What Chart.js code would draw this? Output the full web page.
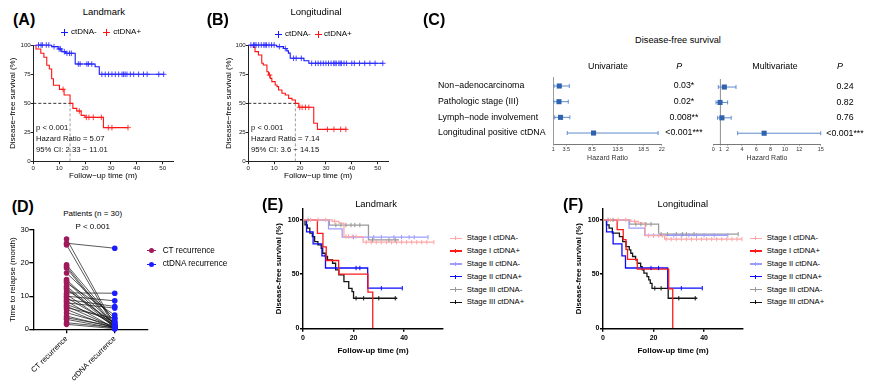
<!DOCTYPE html>
<html><head><meta charset="utf-8">
<script src="https://cdn.jsdelivr.net/npm/chart.js@4.4.1/dist/chart.umd.min.js"></script>
<style>
html,body{margin:0;padding:0;background:#fff;}
body{width:874px;height:390px;position:relative;overflow:hidden;font-family:"Liberation Sans",Arial,sans-serif;color:#000;}
canvas{position:absolute;}
.t{position:absolute;white-space:nowrap;line-height:1;}
.b{position:absolute;}
</style></head><body>
<script>
// ================= DATA =================
// (A) Landmark Kaplan-Meier (time in months, survival in %)
const aNegTime = [0, 7.1, 9.6, 11.0, 12.5, 16.2, 23.9, 25.5, 50.4];
const aNegSurv = [100, 98.6, 96.6, 94.3, 92.9, 83.7, 81.4, 74.9, 74.9];
const aNegCensor = [2, 3, 3.5, 5, 6, 8, 10, 10.5, 12, 13, 14, 14.7, 17.4, 18.1, 20.7, 21.3, 22.6, 26.5, 27.8, 29.1, 30.4, 31.7, 33, 34.3, 34.9, 35.5, 36.2, 37.5, 38.8, 40.7, 42.6, 44, 48.5, 50.4];
const aPosTime = [0, 1.05, 2.9, 4.1, 5.2, 6.2, 7.1, 7.8, 10.1, 11.9, 14.2, 15.3, 16.8, 18.5, 20.0, 27.1, 36.6];
const aPosSurv = [100, 96.6, 92.9, 89.5, 82.6, 79.4, 71.1, 65.5, 62.0, 57.2, 50.0, 45.7, 43.4, 39.7, 38.0, 29.2, 29.2];
const aPosCensor = [11.5, 17.8, 20.5, 21.5, 23.2, 26.3, 29.0, 30.4, 36.6];
const aMedian = 14.2;
const aStats = ["p < 0.001", "Hazard Ratio = 5.07", "95% CI: 2.33 \u2212 11.01"];

// (B) Longitudinal Kaplan-Meier
const bNegTime = [0, 11.0, 13.6, 14.9, 15.5, 16.2, 21.5, 23.4, 52.0];
const bNegSurv = [100, 98.6, 97.0, 95.0, 93.0, 88.6, 86.5, 84.3, 84.3];
const bNegCensor = [1, 2, 2.5, 3, 4, 5, 6, 6.5, 7, 8, 9, 10, 12, 14.3, 17.5, 18.5, 20.5, 24.5, 26, 27, 28, 29, 30, 31, 32, 33, 33.5, 34, 35, 35.5, 36, 37, 38, 40, 41, 43, 45, 47, 49, 52];
const bPosTime = [0, 1.9, 2.6, 3.9, 5.2, 5.8, 7.2, 7.8, 8.5, 9.1, 10.4, 11.1, 11.7, 13.0, 14.3, 15.6, 16.9, 18.2, 19.5, 25.3, 26.7, 38.1];
const bPosSurv = [100, 98.0, 94.3, 91.4, 84.3, 82.9, 77.1, 74.3, 71.4, 68.6, 65.7, 64.3, 61.4, 58.6, 57.2, 54.3, 52.9, 50.0, 46.6, 32.9, 27.7, 27.7];
const bPosCensor = [8.2, 19.9, 20.8, 22.1, 23.4, 30.6, 33.1, 35.7, 37.7];
const bMedian = 18.2;
const bStats = ["p < 0.001", "Hazard Ratio = 7.14", "95% CI: 3.6 \u2212 14.15"];

// (C) Forest plot
const rowLabels = ["Non\u2212adenocarcinoma", "Pathologic stage (III)", "Lymph\u2212node involvement", "Longitudinal positive ctDNA"];
const rowIdx = [0, 1, 2, 3];
const uniHR = [2.16, 2.1, 2.4, 8.8];
const uniLow = [1.13, 1.1, 1.27, 3.7];
const uniHigh = [4.1, 3.9, 4.2, 21.3];
const uniP = ["0.03*", "0.02*", "0.008**", "<0.001***"];
const uniTicks = [1, 3.5, 8.5, 13.5, 18.5, 22];
const multiHR = [1.54, 0.94, 1.2, 7.1];
const multiLow = [0.7, 0.38, 0.6, 3.4];
const multiHigh = [3.17, 2.0, 2.5, 15];
const multiP = ["0.24", "0.82", "0.76", "<0.001***"];
const multiTicks = [0, 1, 2, 4, 6, 8, 10, 12, 15];

// (D) Paired time to relapse (months)
const dCategories = ["CT recurrence", "ctDNA recurrence"];
const ctTime = [27.3, 26.0, 25.5, 19.5, 19.0, 18.5, 17.0, 15.0, 14.5, 14.0, 13.0, 12.5, 12.0, 11.0, 10.5, 10.0, 9.5, 9.0, 8.5, 8.0, 7.5, 7.0, 6.5, 6.0, 5.0, 4.0, 3.5, 3.0, 2.0, 1.5];
const ctdnaTime = [1.0, 24.5, 0.5, 2.3, 1.0, 0.5, 3.3, 1.5, 0.5, 4.3, 1.0, 0.5, 1.8, 10.9, 0.8, 8.6, 1.3, 6.9, 0.3, 6.4, 2.3, 0.5, 3.3, 0.2, 1.0, 0.5, 0.8, 0.3, 0.5, 0.2];

// (E) Landmark by stage
const efLabels = ["Stage I ctDNA-", "Stage I ctDNA+", "Stage II ctDNA-", "Stage II ctDNA+", "Stage III ctDNA-", "Stage III ctDNA+"];
const e1nT = [0, 11.5, 14.2, 16.2, 23.8, 51.8];
const e1nS = [100, 98.5, 97.0, 84.6, 79.4, 79.4];
const e1nC = [3, 6, 9, 12.5, 17, 18, 19.5, 21, 25, 27, 29, 31, 33, 35, 37, 39, 41, 43, 45, 47, 49, 51.8];
const e1pT = [0, 5.7, 7.9, 9.2, 14.1, 25.7, 27.6];
const e1pS = [100, 87.5, 75.0, 62.5, 50.0, 33.3, 0];
const e1pC = [];
const e2nT = [0, 10.1, 15.5, 49.5];
const e2nS = [100, 91.7, 84.0, 84.0];
const e2nC = [20, 28, 31, 36, 39, 42, 44, 49.5];
const e2pT = [0, 1.4, 4.0, 7.5, 8.9, 25.6, 39.3];
const e2pS = [100, 88.9, 77.8, 66.7, 55.6, 37.0, 37.0];
const e2pC = [21, 22.5, 31, 39.3];
const e3nT = [0, 10.4, 25.9, 38.0];
const e3nS = [100, 95.2, 81.5, 81.5];
const e3nC = [2, 13, 15, 17, 19, 20.5, 22.5, 27.5, 34, 36.5];
const e3pT = [0, 0.8, 1.7, 2.7, 3.7, 4.6, 5.9, 7.2, 7.8, 8.8, 9.7, 11.7, 12.9, 14.2, 16.2, 18.1, 19.4, 20.0, 37.3];
const e3pS = [100, 95.4, 92.3, 87.7, 84.6, 80.0, 76.9, 73.8, 69.2, 66.2, 63.1, 60.0, 53.8, 49.2, 43.1, 36.9, 33.8, 27.7, 27.7];
const e3pC = [21, 24, 30, 36.5];

// (F) Longitudinal by stage
const f1nT = [0, 11, 14, 16.7, 24.4, 55];
const f1nS = [100, 98.5, 97, 85.5, 82.2, 82.2];
const f1nC = [3, 6, 9, 12.5, 18, 20, 22, 23.5, 25, 27, 29, 31, 33, 35, 37, 39, 41, 43, 45, 47, 49, 51, 53, 55];
const f1pT = [0, 5.6, 8.0, 9.1, 9.7, 13.6, 26.0, 27.6];
const f1pS = [100, 90.9, 81.8, 72.7, 63.6, 54.5, 36.4, 0];
const f1pC = [];
const f2nT = [0, 10.3, 16.5, 49.4];
const f2nS = [100, 92.3, 85.8, 85.8];
const f2nC = [20, 28, 31, 34, 37, 40, 44, 49.4];
const f2pT = [0, 1.4, 4.0, 7.5, 8.9, 25.6, 39.3];
const f2pS = [100, 88.9, 77.8, 66.7, 55.6, 37.0, 37.0];
const f2pC = [19, 22, 31, 39.3];
const f3nT = [0, 10.5, 22.0, 53.5];
const f3nS = [100, 96.0, 86.8, 86.8];
const f3nC = [2, 4, 13, 15, 17, 19, 23, 25.5, 29, 31.5, 33, 36, 53.5];
const f3pT = [0, 1.4, 2.4, 3.7, 6.5, 7.8, 9.1, 10.4, 11.0, 11.7, 12.9, 13.6, 14.9, 15.5, 16.2, 17.4, 18.1, 18.7, 19.4, 25.8, 37.3];
const f3pS = [100, 95.4, 92.3, 87.7, 84.6, 80.0, 75.4, 72.3, 69.2, 66.2, 63.1, 60.0, 56.9, 53.8, 50.8, 47.7, 44.6, 41.5, 36.9, 27.7, 27.7];
const f3pC = [20.5, 23, 30, 36.5];

// ================= HELPERS =================
const FONT = '"Liberation Sans", Arial, sans-serif';
Chart.defaults.font.family = FONT;
Chart.defaults.color = '#000';
Chart.defaults.plugins.legend.display = false;
Chart.defaults.plugins.tooltip.enabled = false;

function makeChart(left, top, w, h, config) {
  const c = document.createElement('canvas');
  c.width = w; c.height = h;
  c.style.left = left + 'px'; c.style.top = top + 'px';
  c.style.width = w + 'px'; c.style.height = h + 'px';
  document.body.appendChild(c);
  config.options = Object.assign({responsive: false, maintainAspectRatio: false, animation: false, devicePixelRatio: 1, events: []}, config.options);
  return new Chart(c.getContext('2d'), config);
}
function addText(s, x, y, o) {
  o = o || {};
  const d = document.createElement('div'); d.className = 't'; d.textContent = s;
  d.style.left = x + 'px'; d.style.top = y + 'px';
  d.style.fontSize = (o.size || 9) + 'px';
  if (o.bold) d.style.fontWeight = 'bold';
  if (o.italic) d.style.fontStyle = 'italic';
  d.style.color = o.color || '#000';
  const ax = o.align === 'center' ? '-50%' : (o.align === 'right' ? '-100%' : '0');
  d.style.transform = 'translate(' + ax + ',-50%)';
  document.body.appendChild(d);
}
function box(x, y, w, h, color, round) {
  const d = document.createElement('div'); d.className = 'b';
  d.style.left = x + 'px'; d.style.top = y + 'px'; d.style.width = w + 'px'; d.style.height = h + 'px';
  d.style.background = color; if (round) d.style.borderRadius = '50%';
  document.body.appendChild(d);
}
function stepAt(T, S, t) { let v = S[0]; for (let i = 0; i < T.length; i++) if (T[i] <= t) v = S[i]; return v; }
function stepLine(T, S, color, w) {
  // 'before' in Chart.js = horizontal at previous value, then vertical drop (Kaplan-Meier style)
  return {data: T.map((t, i) => ({x: t, y: S[i]})), borderColor: color, borderWidth: w, stepped: 'before', pointRadius: 0, fill: false};
}
function censorMarks(T, S, C, color, style, r, rot) {
  return {data: C.map(t => ({x: t, y: stepAt(T, S, t)})), showLine: false, pointStyle: style, pointRadius: r, pointRotation: rot || 0,
    pointBorderColor: color, pointBackgroundColor: color, pointBorderWidth: 1, borderColor: color, clip: false};
}
function seg(x1, y1, x2, y2, color, w, dash) {
  return {data: [{x: x1, y: y1}, {x: x2, y: y2}], borderColor: color, borderWidth: w, borderDash: dash || [], pointRadius: 0, fill: false};
}
function axis(o) {
  const a = {
    type: 'linear', min: o.min, max: o.max, reverse: !!o.reverse,
    ticks: {stepSize: o.step, includeBounds: false, font: {size: o.fs, weight: o.bold ? 'bold' : 'normal'}, color: o.tc || '#000',
      padding: o.tp || 0, maxRotation: o.rot || 0, minRotation: o.rot || 0, autoSkip: false, callback: o.cb || (v => String(v))},
    grid: {display: true, drawOnChartArea: false, drawTicks: true, tickLength: o.tl, color: o.ac || '#000', lineWidth: o.aw || 1},
    border: {display: true, color: o.ac || '#000', width: o.aw || 1},
    title: {display: !!o.title, text: o.title || '', font: {size: o.tfs || 8, weight: o.bold ? 'bold' : 'normal'}, color: '#000', padding: o.tpad || 0},
    afterFit: s => { if (o.w !== undefined) s.width = o.w; if (o.h !== undefined) s.height = o.h; }
  };
  if (o.ticksAt) a.afterBuildTicks = s => { s.ticks = o.ticksAt.map(v => ({value: v})); };
  return a;
}

// ================= PANELS A & B =================
function kmAB(left, negT, negS, negC, posT, posS, posC, med, yPad) {
  makeChart(left, 35, 178, 146, {type: 'line', data: {datasets: [
    censorMarks(negT, negS, negC, 'rgba(40,40,255,0.85)', 'cross', 2.8),
    censorMarks(posT, posS, posC, 'rgba(255,30,30,0.85)', 'cross', 2.8),
    stepLine(negT, negS, '#1616ff', 1.1),
    stepLine(posT, posS, '#ff1212', 1.1),
    seg(0, 50, med, 50, '#000', 0.8, [3, 2]),
    seg(med, 50, med, 0, '#888', 0.8, [3, 2])
  ]}, options: {layout: {padding: {left: 0, top: 10, right: 5, bottom: 0}}, scales: {
    x: axis({min: 0, max: 54, step: 10, fs: 6.2, tc: '#222', tl: 2.5, tp: 0, ac: '#222', title: 'Follow\u2212up time (m)', tfs: 8, tpad: {top: 0, bottom: 0}, h: 19.3}),
    y: axis({min: 0, max: 100, step: 25, fs: 6.2, tc: '#222', tl: 2.5, tp: 0, ac: '#222', title: 'Disease\u2212free survival (%)', tfs: 8, tpad: {top: yPad, bottom: 0}, w: 33.3})
  }}});
}
kmAB(0, aNegTime, aNegSurv, aNegCensor, aPosTime, aPosSurv, aPosCensor, aMedian, 8);
kmAB(215, bNegTime, bNegSurv, bNegCensor, bPosTime, bPosSurv, bPosCensor, bMedian, 8.5);

function crossMark(cx, cy, color) { box(cx - 3.5, cy - 0.5, 7, 1, color); box(cx - 0.5, cy - 3.5, 1, 7, color); }
addText("(A)", 13, 20, {size: 16, bold: true});
addText("Landmark", 103.8, 11.7, {size: 9.5, align: 'center'});
crossMark(64.3, 32.3, '#1616ff'); addText("ctDNA-", 71, 32.3, {size: 8});
crossMark(106, 32.3, '#ff1212'); addText("ctDNA+", 113.3, 32.3, {size: 8});
aStats.forEach((s, i) => addText(s, 36, 128.3 + i * 10.9, {size: 7.7, color: '#111'}));

addText("(B)", 206.7, 20, {size: 16, bold: true});
addText("Longitudinal", 316, 12.3, {size: 9.5, align: 'center'});
crossMark(278.3, 34.3, '#1616ff'); addText("ctDNA-", 285, 34.3, {size: 8});
crossMark(318.3, 34.3, '#ff1212'); addText("ctDNA+", 324, 34.3, {size: 8});
bStats.forEach((s, i) => addText(s, 251, 128.3 + i * 10.9, {size: 7.7, color: '#111'}));

// ================= PANEL C =================
const ROW_MIN = -0.53, ROW_MAX = 3.7;
function forest(left, w, padLeft, HR, LO, HI, P, xmin, xmax, ticks, labels, pPad) {
  const ciCol = '#5f8bcc';
  const ds = [];
  ds.push({data: HR.map((h, i) => ({x: h, y: i})), showLine: false, pointStyle: 'rect', pointRadius: 3.6,
    pointBackgroundColor: '#2f63ae', pointBorderColor: '#2f63ae', pointBorderWidth: 0, clip: false});
  const caps = []; LO.forEach((l, i) => { caps.push({x: l, y: i}, {x: HI[i], y: i}); });
  ds.push({data: caps, showLine: false, pointStyle: 'line', pointRadius: 2, pointRotation: 90, pointBorderColor: ciCol, pointBorderWidth: 1, clip: false});
  LO.forEach((l, i) => ds.push(seg(l, i, HI[i], i, ciCol, 1)));
  if (!labels) ds.push(seg(1, ROW_MIN, 1, ROW_MAX, '#9a9a9a', 1));
  const yAxis = {type: 'linear', min: ROW_MIN, max: ROW_MAX, reverse: true, position: 'left', display: !!labels,
    afterBuildTicks: s => { s.ticks = rowIdx.map(v => ({value: v})); },
    ticks: {callback: v => labels ? labels[v] : '', crossAlign: 'far', font: {size: 8.8}, color: '#000', padding: 0},
    grid: {display: false, drawTicks: false}, border: {display: true, color: '#9a9a9a', width: 1},
    afterFit: s => { s.width = labels ? 115.3 : 0; }};
  makeChart(left, 68, w, 96, {type: 'line', data: {datasets: ds}, options: {
    layout: {padding: {left: padLeft, top: 9.7, right: 0, bottom: 2}},
    scales: {
      x: {type: 'linear', min: xmin, max: xmax, afterBuildTicks: s => { s.ticks = ticks.map(v => ({value: v})); },
        ticks: {callback: v => String(v), font: {size: 5.5}, color: '#333', padding: 0.5, maxRotation: 0, autoSkip: false},
        grid: {drawOnChartArea: false, drawTicks: true, tickLength: 1.5, color: '#555', lineWidth: 0.8},
        border: {color: '#555', width: 0.8},
        title: {display: true, text: 'Hazard Ratio', font: {size: 7}, color: '#333', padding: {top: 0, bottom: 0}},
        afterFit: s => { s.height = 18; }},
      y: yAxis,
      p: {type: 'linear', min: ROW_MIN, max: ROW_MAX, reverse: true, position: 'right',
        afterBuildTicks: s => { s.ticks = rowIdx.map(v => ({value: v})); },
        ticks: {callback: v => P[v], crossAlign: 'center', font: {size: 8.8}, color: '#000', padding: pPad},
        grid: {display: false, drawTicks: false}, border: {display: false},
        afterFit: s => { s.width = 50.3; }}
    }}});
}
forest(438, 274, 0, uniHR, uniLow, uniHigh, uniP, 1, 22, uniTicks, rowLabels, 3.6);
forest(705, 166, 8.3, multiHR, multiLow, multiHigh, multiP, 0, 15, multiTicks, null, 5.6);
addText("(C)", 423, 20, {size: 16, bold: true});
addText("Disease-free survival", 678, 40.7, {size: 9.2, align: 'center'});
addText("Univariate", 608, 65.7, {size: 8.9, align: 'center'});
addText("P", 679.3, 65.7, {size: 8.9, align: 'center', italic: true});
addText("Multivariate", 775, 65.7, {size: 8.9, align: 'center'});
addText("P", 840, 65.7, {size: 8.9, align: 'center', italic: true});

// ================= PANEL D =================
const pairLines = [];
ctTime.forEach((c, i) => { pairLines.push({x: 0, y: c}, {x: 1, y: ctdnaTime[i]}, {x: 0.5, y: null}); });
makeChart(0, 220, 152, 170, {type: 'line', data: {datasets: [
  {data: ctTime.map(v => ({x: 0, y: v})), showLine: false, pointRadius: 2.8, pointBackgroundColor: '#a0195a', pointBorderColor: '#a0195a', pointBorderWidth: 0, clip: false},
  {data: ctdnaTime.map(v => ({x: 1, y: v})), showLine: false, pointRadius: 2.8, pointBackgroundColor: '#1c1cff', pointBorderColor: '#1c1cff', pointBorderWidth: 0, clip: false},
  {data: pairLines, borderColor: '#111', borderWidth: 0.7, pointRadius: 0, spanGaps: false}
]}, options: {layout: {padding: {left: 0, top: 10, right: 3.7, bottom: 0}}, scales: {
  x: axis({min: -0.69, max: 1.69, ticksAt: [0, 1], cb: v => dCategories[v], fs: 7.5, tl: 4, tp: 1, rot: 45, aw: 1.3, h: 60.7}),
  y: axis({min: 0, max: 30, step: 10, fs: 7.5, tl: 4, tp: 0.5, aw: 1.3, title: 'Time to relapse (month)', tfs: 8, tpad: {top: 8, bottom: 0}, w: 33.3})
}}});
addText("(D)", 11.7, 206.7, {size: 16, bold: true});
addText("Patients (n = 30)", 92.7, 214.3, {size: 8, align: 'center'});
addText("P < 0.001", 92.7, 226.7, {size: 8, align: 'center'});
[['#a0195a', 250.7], ['#1c1cff', 264.3]].forEach((m, i) => {
  box(147.3, m[1] - 0.5, 8.7, 1, m[0]); box(151.7 - 2.7, m[1] - 2.7, 5.4, 5.4, m[0], true);
  addText(dCategories[i], 162.7, m[1], {size: 8.2});
});

// ================= PANELS E & F =================
const efColors = ['#ffa6a6', '#ff1a1a', '#9d9dff', '#0b0bff', '#999999', '#151515'];
function kmEF(left, curves) {
  const ds = [];
  curves.forEach((c, i) => ds.push(censorMarks(c[0], c[1], c[2], efColors[i], 'line', 2.2, 90)));
  curves.forEach((c, i) => ds.push(stepLine(c[0], c[1], efColors[i], 1.3)));
  makeChart(left, 200, 183, 156, {type: 'line', data: {datasets: ds}, options: {
    layout: {padding: {left: 0, top: 9, right: 2, bottom: 0}}, scales: {
      x: axis({min: 0, max: 55.4, step: 20, fs: 7, bold: true, tl: 3.5, tp: 2.5, aw: 1.4, title: 'Follow-up time (m)', tfs: 8, tpad: {top: 0, bottom: 0.9}, h: 27.7}),
      y: axis({min: 0, max: 110, step: 50, fs: 7, bold: true, tl: 3, tp: 0.5, aw: 1.4, title: 'Disease-free survival (%)', tfs: 7.7, tpad: {top: 9.4, bottom: 0}, w: 38})
    }}});
  const lx = left + 185;
  efLabels.forEach((lab, i) => {
    const y = 238.3 + i * 12.8;
    box(lx, y - 0.65, 11.7, 1.3, efColors[i]);
    box(lx + 5.35, y - 2.2, 1, 4.4, efColors[i]);
    addText(lab, lx + 16.7, y, {size: 7.7});
  });
}
kmEF(265, [[e1nT, e1nS, e1nC], [e1pT, e1pS, e1pC], [e2nT, e2nS, e2nC], [e2pT, e2pS, e2pC], [e3nT, e3nS, e3nC], [e3pT, e3pS, e3pC]]);
kmEF(565, [[f1nT, f1nS, f1nC], [f1pT, f1pS, f1pC], [f2nT, f2nS, f2nC], [f2pT, f2pS, f2pC], [f3nT, f3nS, f3nC], [f3pT, f3pS, f3pC]]);
addText("(E)", 262, 205, {size: 16, bold: true});
addText("Landmark", 376, 204.3, {size: 9.4, align: 'center'});
addText("(F)", 563, 205, {size: 16, bold: true});
addText("Longitudinal", 682.8, 204.3, {size: 9.4, align: 'center'});
</script>
</body></html>
